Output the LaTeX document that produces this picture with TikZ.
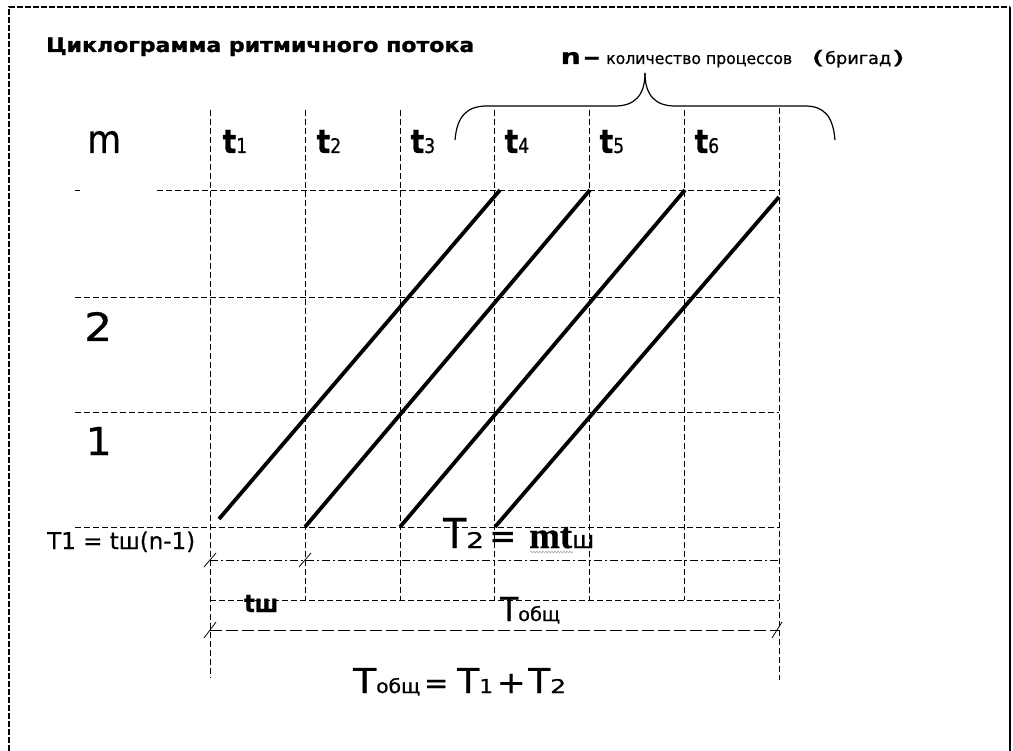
\documentclass[tikz,border=0pt]{standalone}
\usepackage{fontspec}
\setmainfont{DejaVu Sans}[FakeBold=0.6]
\newfontfamily\heavy{DejaVu Sans Bold}[FakeBold=1.2]
\newfontfamily\serifb{Liberation Serif Bold}[FakeBold=0.5]
\usepackage{graphicx}
\usetikzlibrary{decorations.pathmorphing}
\newcommand{\rb}[3]{\resizebox{#1pt}{#2pt}{#3}}
\newcommand{\tlab}[1]{\rb{13.5}{23}{\heavy t}\rb{11}{15}{#1}}
\begin{document}
\begin{tikzpicture}[x=1pt,y=-1pt,
  gline/.style={line width=0.9pt, dash pattern=on 6pt off 3pt},
  glong/.style={line width=0.9pt, dash pattern=on 12pt off 4pt},
  gdot/.style={line width=0.9pt, dash pattern=on 8pt off 3pt on 2pt off 3pt},
  flow/.style={line width=3.8pt},
  tickm/.style={line width=0.8pt},
  framed/.style={line width=1.5pt, dash pattern=on 6pt off 2pt},
  brace/.style={line width=1.2pt},
  lbl/.style={inner sep=0pt, anchor=base west}]
\useasboundingbox (0,0) rectangle (1013,751);
\fill[white] (0,0) rectangle (1013,751);
% frame
\draw[framed] (9,751) -- (9,7) -- (1010,7);
\draw[line width=1.5pt] (1010,7) -- (1010,751);
% vertical grid lines
\draw[gline] (210,110) -- (210,678);
\foreach \xx in {305,400,494,589,684}{\draw[gline] (\xx,110) -- (\xx,600);}
\draw[gline] (779,108) -- (779,680);
% horizontal grid lines
\draw[gline] (75,190) -- (80,190);
\draw[gline] (157,190) -- (779,190);
\draw[gline] (75,297) -- (779,297);
\draw[gline] (75,412) -- (779,412);
\draw[gline] (75,527) -- (779,527);
\draw[gdot] (210,560) -- (779,560);
\draw[gline] (210,600) -- (779,600);
\draw[glong] (210,630) -- (779,630);
% tick marks
\draw[tickm] (204,567) -- (216,553);
\draw[tickm] (299,567) -- (311,553);
\draw[tickm] (204,638) -- (216,622);
\draw[tickm] (772,638) -- (782,622);
% flow lines
\coordinate (s1) at (219,519); \coordinate (e1) at (500,190);
\coordinate (s2) at (305,527); \coordinate (e2) at (590,190);
\coordinate (s3) at (400,527); \coordinate (e3) at (685,190);
\coordinate (s4) at (495,527); \coordinate (e4) at (779,197);
\draw[flow] (s1) -- (e1);
\draw[flow] (s2) -- (e2);
\draw[flow] (s3) -- (e3);
\draw[flow] (s4) -- (e4);
% brace
\coordinate (bl) at (455,140); \coordinate (bc) at (645,73); \coordinate (br) at (835,140);
\draw[brace] (bl) .. controls (457,115) and (468,106) .. (487,106) -- (615,106)
  .. controls (634,106) and (645,96) .. (bc);
\draw[brace] (bc) .. controls (645,96) and (656,106) .. (675,106) -- (805,106)
  .. controls (823,106) and (833,115) .. (br);
% texts
\node[lbl] (title) at (46,52) {\rb{428}{14.5}{\heavy Циклограмма ритмичного потока}};
\node[lbl] (nlab) at (560.5,64) {\rb{20}{12}{\heavy n}\hspace{2.5pt}\rb{17}{7}{\heavy –}\hspace{6pt}\rb{186}{9}{количество процессов}\hspace{19pt}\rb{14}{14}{(}\rb{66}{13}{бригад}\rb{14}{14}{)}};
\node[lbl] (mlab) at (87,153) {\rb{34}{22}{m}};
\node[lbl] (t1) at (222.5,153) {\tlab{1}};
\node[lbl] (t2) at (316.5,153) {\tlab{2}};
\node[lbl] (t3) at (410.5,153) {\tlab{3}};
\node[lbl] (t4) at (504.5,153) {\tlab{4}};
\node[lbl] (t5) at (599.5,153) {\tlab{5}};
\node[lbl] (t6) at (694.5,153) {\tlab{6}};
\node[lbl] (r2) at (84,341) {\rb{28}{29}{2}};
\node[lbl] (r1) at (85.5,455) {\rb{26}{28}{1}};
\node[lbl] (T1eq) at (47,549) {\rb{148}{17.5}{T1 = tш(n-1)}};
\node[lbl] (T2eq) at (443,548) {\rb{23}{30}{T}\rb{18}{16}{2}\hspace{5pt}\rb{27}{16}{=}\hspace{13pt}\rb{43}{21}{\serifb mt}\rb{22}{13}{ш}};
\draw[gray!70, line width=0.6pt, decorate, decoration={snake, amplitude=0.8pt, segment length=3pt}] (530,552) -- (573,552);
\node[lbl] (tsh) at (244,612) {\rb{34}{17}{\heavy tш}};
\node[lbl] (Tob) at (500,621) {\rb{18}{24}{T}\rb{42}{15}{общ}};
\node[lbl] (Tsum) at (353,693) {\rb{23}{25}{T}\rb{44}{15}{общ}\hspace{4pt}\rb{24}{13}{=}\hspace{9pt}\rb{22}{25}{T}\rb{14}{14}{1}\hspace{3.5pt}\rb{29}{19}{+}\hspace{2.5pt}\rb{22}{25}{T}\rb{16}{14}{2}};
\end{tikzpicture}
\end{document}
